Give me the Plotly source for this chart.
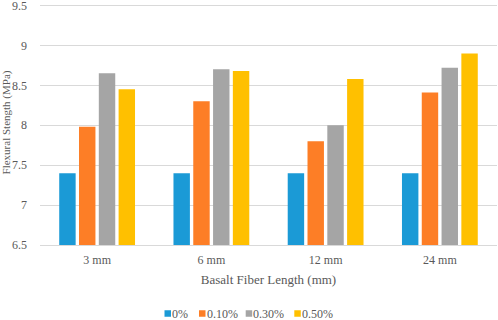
import plotly.graph_objects as go

categories = ["3 mm", "6 mm", "12 mm", "24 mm"]
series_names = ["0%", "0.10%", "0.30%", "0.50%"]
s0 = [7.4, 7.4, 7.4, 7.4]
s10 = [7.98, 8.30, 7.80, 8.41]
s30 = [8.65, 8.70, 8.00, 8.72]
s50 = [8.45, 8.68, 8.58, 8.90]
y_ticks = [6.5, 7, 7.5, 8, 8.5, 9, 9.5]
y_tick_labels = ["6.5", "7", "7.5", "8", "8.5", "9", "9.5"]

colors = ["#1B9AD6", "#FD7E26", "#A5A5A5", "#FFC000"]
FONT = "Liberation Serif"
GREY = "#595959"
GRID = "#D9D9D9"

W, H = 498, 320
ML, MR, MT, MB = 40, 1, 0, 75
PW, PH = W - ML - MR, H - MT - MB

fig = go.Figure()
for name, vals, c in zip(series_names, [s0, s10, s30, s50], colors):
    fig.add_trace(go.Bar(x=categories, y=vals, name=name, showlegend=False,
                         marker=dict(color=c, line=dict(width=0))))

# make sure the top gridline is drawn
fig.add_shape(type="line", xref="paper", yref="y", x0=0, x1=1, y0=y_ticks[-1], y1=y_ticks[-1],
              line=dict(color=GRID, width=1), layer="below")

# legend drawn as small squares + text below the x-axis title
legend_sq_px = [164.5, 199, 245.7, 294.3]   # left edge of each swatch (px)
legend_y_px = 313.5
sq = 6.5
for name, c, sx in zip(series_names, colors, legend_sq_px):
    x0 = (sx - ML) / PW
    x1 = (sx + sq - ML) / PW
    y0 = (MT + PH - (legend_y_px + sq / 2)) / PH
    y1 = (MT + PH - (legend_y_px - sq / 2)) / PH
    fig.add_shape(type="rect", xref="paper", yref="paper", x0=x0, x1=x1, y0=y0, y1=y1,
                  fillcolor=c, line=dict(width=0))
    fig.add_annotation(text=name, xref="paper", yref="paper",
                       x=(sx + sq + 0.2 - ML) / PW, y=(MT + PH - legend_y_px) / PH,
                       xanchor="left", yanchor="middle", showarrow=False, borderpad=0,
                       font=dict(family=FONT, size=12, color=GREY))

fig.update_layout(
    width=W, height=H,
    margin=dict(l=ML, r=MR, t=MT, b=MB, autoexpand=False),
    paper_bgcolor="white", plot_bgcolor="white",
    barmode="group", bargap=0.307, bargroupgap=0.17,
    font=dict(family=FONT, size=12, color=GREY),
    showlegend=False,
    xaxis=dict(showgrid=False, showline=True, linecolor=GRID, linewidth=1,
               ticks="", ticklabelstandoff=4, automargin=False,
               tickfont=dict(family=FONT, size=12, color=GREY),
               title=dict(text="Basalt Fiber Length (mm)", font=dict(family=FONT, size=13, color=GREY), standoff=8)),
    yaxis=dict(range=[6.5, 9.569], tickvals=y_ticks, ticktext=y_tick_labels,
               showgrid=True, gridcolor=GRID, gridwidth=1, zeroline=False,
               ticks="", ticklabelstandoff=12, automargin=False, ticklabeloverflow="allow",
               tickfont=dict(family=FONT, size=12, color=GREY),
               title=dict(text="Flexural Stength (MPa)", font=dict(family=FONT, size=11, color=GREY), standoff=6)),
)

fig.write_html("out.html", config={"displayModeBar": False},
               post_script="document.body.style.margin='0';")
